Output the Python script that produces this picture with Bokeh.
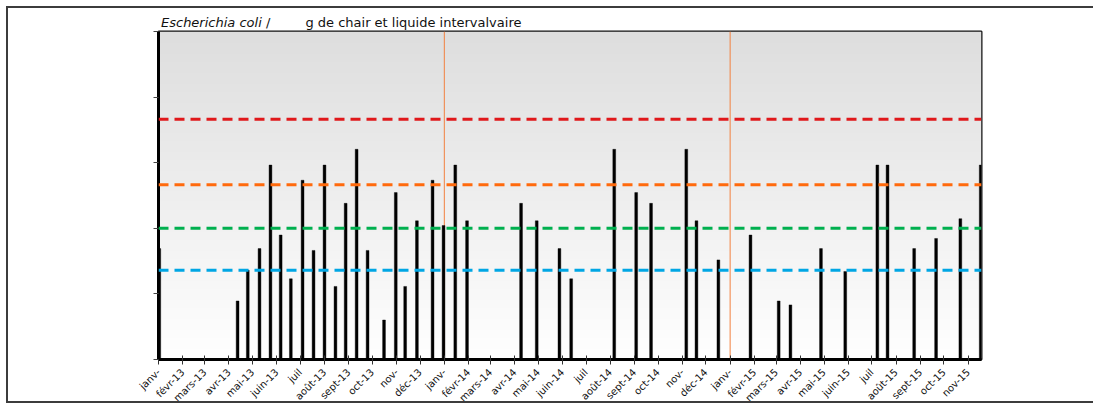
import numpy as np
import pandas as pd
from math import pi
from bokeh.plotting import figure
from bokeh.layouts import column
from bokeh.models import Range1d, FixedTicker, Span, Div, GlobalInlineStyleSheet
from bokeh.embed import file_html
from bokeh.resources import INLINE

# ---------------- data ----------------
sample_dates = [
    "2013-01-02", "2013-04-12", "2013-04-25", "2013-05-10", "2013-05-24", "2013-06-06",
    "2013-06-19", "2013-07-04", "2013-07-18", "2013-08-01", "2013-08-15", "2013-08-28",
    "2013-09-11", "2013-09-25", "2013-10-16", "2013-10-31", "2013-11-12", "2013-11-27",
    "2013-12-17", "2013-12-31",
    "2014-01-15", "2014-01-30", "2014-04-09", "2014-04-29", "2014-05-28", "2014-06-12",
    "2014-08-06", "2014-09-03", "2014-09-22", "2014-11-06", "2014-11-19", "2014-12-17",
    "2015-01-27", "2015-03-04", "2015-03-19", "2015-04-27", "2015-05-28", "2015-07-08",
    "2015-07-21", "2015-08-24", "2015-09-21", "2015-10-22", "2015-11-17",
]
ecoli_values = [
    490, 78, 230, 490, 9200, 790,
    170, 5400, 460, 9200, 130, 2400,
    16000, 460, 40, 3500, 130, 1300,
    5400, 1100,
    9200, 1300, 2400, 1300, 490, 170,
    16000, 3500, 2400, 16000, 1300, 330,
    790, 78, 68, 490, 220, 9200,
    9200, 490, 700, 1400, 9200,
]
month_labels = [
    "janv-", "févr-13", "mars-13", "avr-13", "mai-13", "juin-13", "juil", "août-13",
    "sept-13", "oct-13", "nov-", "déc-13",
    "janv-", "févr-14", "mars-14", "avr-14", "mai-14", "juin-14", "juil", "août-14",
    "sept-14", "oct-14", "nov-", "déc-14",
    "janv-", "févr-15", "mars-15", "avr-15", "mai-15", "juin-15", "juil", "août-15",
    "sept-15", "oct-15", "nov-15",
]
axis_start = "2013-01-01"
axis_end = "2015-11-18"
threshold_values = [230, 1000, 4600, 46000]
threshold_colors = ["#00a6e4", "#00b04f", "#ff6a0d", "#e0181b"]
year_marks = ["2014-01-01", "2015-01-01"]
y_ticks = [10, 100, 1000, 10000, 100000, 1000000]
title_italic = "Escherichia coli"
title_slash = "/"
title_rest = "g de chair et liquide intervalvaire"

# ---------------- helpers ----------------
origin = pd.Timestamp(axis_start)


def day(d):
    return int((pd.Timestamp(d) - origin).days)


x_days = [day(d) for d in sample_dates]
month_starts = pd.date_range(axis_start, periods=len(month_labels), freq="MS")
tick_days = [day(d) for d in month_starts]
x_end = day(axis_end)
y_lo, y_hi = y_ticks[0], y_ticks[-1]

FONT = "DejaVu Sans"

p = figure(
    frame_width=823, frame_height=328,
    x_range=Range1d(0, x_end), y_range=Range1d(y_lo, y_hi),
    y_axis_type="log",
    output_backend="svg", toolbar_location=None,
    min_border_left=158, min_border_right=112, min_border_top=1, min_border_bottom=40,
    background_fill_color="white", border_fill_color="white",
)
p.outline_line_color = "#111111"
p.outline_line_width = 2
p.xgrid.grid_line_color = None
p.ygrid.grid_line_color = None

# gradient background of the plotting area
n = 120
shade = np.linspace(255, 222, n).astype(np.uint8)
img = np.zeros((n, 1), dtype=np.uint32)
view = img.view(dtype=np.uint8).reshape((n, 1, 4))
view[:, 0, 0] = shade
view[:, 0, 1] = shade
view[:, 0, 2] = shade
view[:, 0, 3] = 255
bg = p.image_rgba(image=[img], x=0, y=y_lo, dw=x_end, dh=y_hi - y_lo)
bg.level = "image"

# year separators
for d in year_marks:
    p.add_layout(Span(location=day(d), dimension="height", line_color="#f2803f",
                      line_width=1, level="underlay"))

# bars
p.vbar(x=x_days, top=ecoli_values, bottom=y_lo, width=3.6,
       fill_color="black", line_color="black", line_width=0.4)

# thresholds
for v, c in zip(threshold_values, threshold_colors):
    p.add_layout(Span(location=v, dimension="width", line_color=c,
                      line_width=3, line_dash="10 6"))

# axes
xa = p.xaxis[0]
xa.ticker = FixedTicker(ticks=tick_days)
xa.major_label_overrides = {t: lab for t, lab in zip(tick_days, month_labels)}
xa.major_label_orientation = pi / 4
xa.major_label_text_font = FONT
xa.major_label_text_font_size = "10px"
xa.major_label_text_color = "#111111"
xa.major_label_standoff = 6
xa.major_tick_in = 4
xa.major_tick_out = 5
xa.major_tick_line_color = "#333333"
xa.minor_tick_line_color = None
xa.axis_line_color = "black"
xa.axis_line_width = 3

ya = p.yaxis[0]
ya.ticker = FixedTicker(ticks=y_ticks)
ya.major_label_text_color = None
ya.major_tick_in = 0
ya.major_tick_out = 5
ya.major_tick_line_color = "#444444"
ya.minor_tick_line_color = None
ya.axis_line_color = "black"
ya.axis_line_width = 3

# title line above the plot (mixed italic / normal)
title_html = (
    f'<div style="margin:15px 0 0 161px;font-family:\'{FONT}\';font-size:13px;'
    f'line-height:15px;color:#111;white-space:nowrap;">'
    f'<i>{title_italic}</i> {title_slash} '
    f'<span style="margin-left:31px">{title_rest}</span></div>'
)
title_div = Div(text=title_html, width=1093, height=30, margin=0)

# page frame around the chart, no scrollbars
layout = column(title_div, p, spacing=0)
layout.stylesheets = [GlobalInlineStyleSheet(css=(
    "html,body{overflow:hidden;}"
    "body::before{content:'';position:absolute;left:6px;top:6px;width:1200px;height:393px;"
    "border:2px solid #3c3c3c;pointer-events:none;z-index:5;}"
))]

open("out.html", "w").write(file_html(layout, INLINE))
